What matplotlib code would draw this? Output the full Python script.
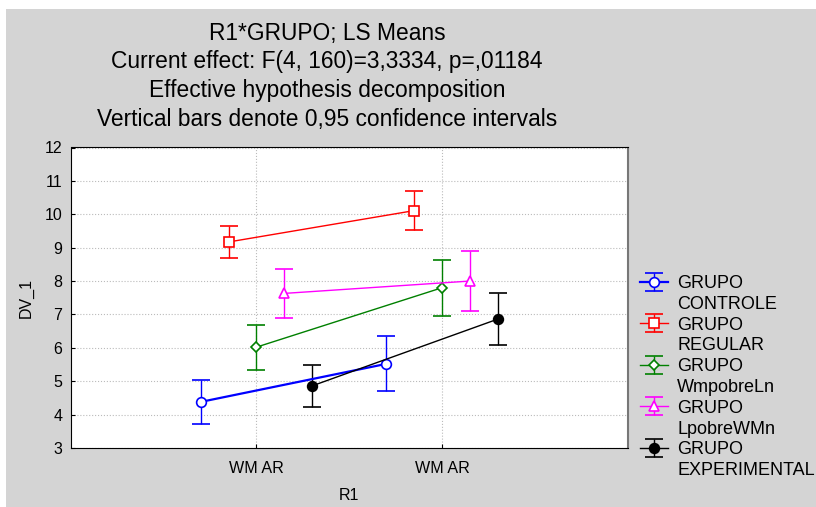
import matplotlib
matplotlib.use("Agg")
import matplotlib.pyplot as plt
from matplotlib.patches import Rectangle
from matplotlib.lines import Line2D
import numpy as np

plt.rcParams['font.family'] = ['Liberation Sans', 'DejaVu Sans']

title_lines = ["R1*GRUPO; LS Means",
               "Current effect: F(4, 160)=3,3334, p=,01184",
               "Effective hypothesis decomposition",
               "Vertical bars denote 0,95 confidence intervals"]

categories = ["WM AR", "WM AR"]
groups = ["GRUPO\nCONTROLE", "GRUPO\nREGULAR", "GRUPO\nWmpobreLn",
          "GRUPO\nLpobreWMn", "GRUPO\nEXPERIMENTAL"]

means_controle = [4.38, 5.52]
means_regular = [9.17, 10.11]
means_wmpobre = [6.02, 7.80]
means_lpobre = [7.63, 8.00]
means_experimental = [4.86, 6.86]

ci_controle = [0.67, 0.82]
ci_regular = [0.47, 0.58]
ci_wmpobre = [0.67, 0.84]
ci_lpobre = [0.73, 0.91]
ci_experimental = [0.62, 0.78]

means = [means_controle, means_regular, means_wmpobre, means_lpobre, means_experimental]
cis = [ci_controle, ci_regular, ci_wmpobre, ci_lpobre, ci_experimental]
colors = ['#0000ff', '#ff0000', '#008000', '#ff00ff', '#000000']
markers = ['o', 's', 'D', '^', 'o']
msizes = [7, 7, 5, 7, 7]
filled = [False, False, False, False, True]
lwidths = [1.6, 1.0, 1.0, 1.0, 1.0]
offsets = [-0.3, -0.15, 0.0, 0.15, 0.3]

fig = plt.figure(figsize=(8.16, 5.07), dpi=100)
fig.patches.append(Rectangle((6 / 816, 0), 810 / 816, 498 / 507, transform=fig.transFigure,
                             facecolor='#d4d4d4', edgecolor='none', zorder=-10))

ax = fig.add_axes([70.7 / 816, 59 / 507, 557 / 816, 300.5 / 507])
ax.set_facecolor('white')

x = np.arange(len(categories))
handles = []
for i in range(len(groups)):
    h = ax.errorbar(x + offsets[i], means[i], yerr=cis[i], color=colors[i],
                    marker=markers[i], markersize=msizes[i], linewidth=lwidths[i],
                    markerfacecolor=colors[i] if filled[i] else 'white',
                    markeredgecolor=colors[i], markeredgewidth=1.2,
                    elinewidth=1.0, capsize=6.5, capthick=1.0, zorder=3)
    handles.append(h)

ax.set_xlim(-1, 2)
ax.set_ylim(3, 12)
ax.set_xticks(x)
ax.set_xticklabels(categories, fontsize=11.6)
ax.set_yticks(np.arange(3, 13, 1))
ax.tick_params(axis='y', labelsize=11.5, direction='in', length=3, pad=6)
ax.tick_params(axis='x', direction='in', length=3, pad=9.5)
ax.grid(True, linestyle=':', color='#bbbbbb', linewidth=0.8)
ax.set_axisbelow(True)
for s in ['top', 'left', 'bottom']:
    ax.spines[s].set_color('black')
ax.spines['right'].set_color('#777777')
ax.spines['right'].set_linewidth(1.5)

ax.set_xlabel("R1", fontsize=11.5, labelpad=8.5)
ax.set_ylabel("DV_1", fontsize=11.5, labelpad=8)

title_y = [40, 68, 97, 126]
for line, yy in zip(title_lines, title_y):
    fig.text(327 / 816, 1 - yy / 507, line, ha='center', va='baseline', fontsize=16.4)

# legend: handle next to first line, second line with an empty handle
leg_handles = []
leg_labels = []
blank = Line2D([], [], linestyle='none', marker='none')
for h, g in zip(handles, groups):
    first, second = g.split("\n")
    leg_handles += [h, blank]
    leg_labels += [first, second]

leg = fig.legend(leg_handles, leg_labels, loc='upper left',
                 bbox_to_anchor=(640 / 816, 1 - 275 / 507), frameon=False,
                 fontsize=13, handlelength=1.55, handletextpad=0.5,
                 labelspacing=0.21, borderpad=0, borderaxespad=0)

fig.savefig("out.png", dpi=100)
